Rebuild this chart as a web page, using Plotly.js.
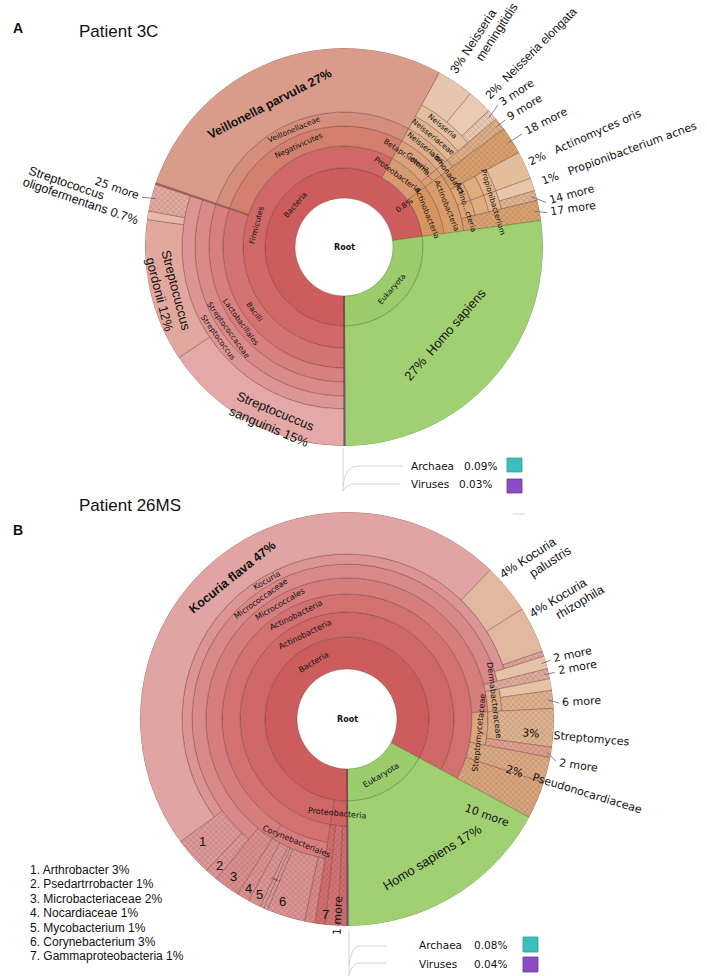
<!DOCTYPE html>
<html><head><meta charset="utf-8">
<script src="https://cdn.plot.ly/plotly-3.0.1.min.js"></script>
<style>html,body{margin:0;padding:0;background:#fff}#chart{width:707px;height:976px}</style>
</head><body><div id="chart"></div>
<script>
// ================= DATA : Patient 3C =================
const a_ids = ['bac','euk','arc','vir',
 'firm','prot','actp',
 'bacil','firm_more','neg',
 'lacto','strepf','strep','s_sang','s_gord','s_olig','s_more',
 'veilf','v_parv',
 'beta','neisl','neisf','neis','n_men','n_elo','n_more',
 'gamma','pseud','g_more',
 'actc','a18','actm','actmf','actmg','a_oris','propo','propf','propg','p_acnes','p14','a17',
 'hs'];
const a_names = ['Bacteria','Eukaryota','Archaea','Viruses',
 'Firmicutes','Proteobacteria','Actinobacteria',
 'Bacilli','Firmicutes other','Negativicutes',
 'Lactobacillales','Streptococcaceae','Streptococcus','Streptococcus sanguinis','Streptococcus gordonii','Streptococcus oligofermentans','25 more',
 'Veillonellaceae','Veillonella parvula',
 'Betaproteobacteria','Neisseriales','Neisseriaceae','Neisseria','Neisseria meningitidis','Neisseria elongata','3 more',
 'Gammaproteobacteria','Pseudomonadales','9 more',
 'Actinobacteria','18 more','Actinomycetales','Actinomycetaceae','Actinomyces','Actinomyces oris','Propionibacteriales','Propionibacteriaceae','Propionibacterium','Propionibacterium acnes','14 more','17 more',
 'Homo sapiens'];
const a_parents = ['','','','',
 'bac','bac','bac',
 'firm','firm','firm',
 'bacil','lacto','strepf','strep','strep','strep','strep',
 'neg','veilf',
 'prot','beta','neisl','neisf','neis','neis','neis',
 'prot','gamma','pseud',
 'actp','actc','actc','actm','actmf','actmg','actc','propo','propf','propg','propg','actc',
 'euk'];
const a_values = [0,0,0.09,0.03,
 0,0,0,
 0,0.15,0,
 0,0,0,15.6,11.6,0.7,2.2,
 0,27.71,
 0,0,0,0,3.0,2.0,0.9,
 0,0,1.0,
 0,2.25,0,0,0,2.25,0,0,0,1.05,0.8,1.65,
 27.0];

// ================= DATA : Patient 26MS =================
const b_ids = ['bac','euk','arc','vir',
 'prot','actp',
 'p_more1','gamma','p_other',
 'actc',
 'coryo','c_more','coryg','c_d1','c_d2','mycob','nocar',
 'micro','microb','micrf','pseudar','arthro','koc','k_flava','k_pal','k_rhiz','k_more','mf_more','mo_more','derma','d_light','d_more',
 'strepf','strepg','sf_more','pseudon','a10',
 'hs'];
const b_names = ['Bacteria','Eukaryota','Archaea','Viruses',
 'Proteobacteria','Actinobacteria',
 '1 more','Gammaproteobacteria','Proteobacteria other',
 'Actinobacteria',
 'Corynebacteriales','Corynebacteriales other','Corynebacterium','...','...','Mycobacterium','Nocardiaceae',
 'Micrococcales','Microbacteriaceae','Micrococcaceae','Pseudarthrobacter','Arthrobacter','Kocuria','Kocuria flava','Kocuria palustris','Kocuria rhizophila','Kocuria other','2 more','2 more','Dermabacteraceae','Dermabacteraceae sp.','6 more',
 'Streptomycetaceae','Streptomyces','2 more','Pseudonocardiaceae','10 more',
 'Homo sapiens'];
const b_parents = ['','','','',
 'bac','bac',
 'prot','prot','prot',
 'actp',
 'actc','coryo','coryo','coryo','coryo','coryo','coryo',
 'actc','micro','micro','micrf','micrf','micrf','koc','koc','koc','koc','micrf','micro','micro','derma','derma',
 'actc','strepf','strepf','actc','actc',
 'euk'];
const b_values = [0,0,0.08,0.04,
 0,0,
 0.7,1.0,0.8,
 0,
 0,0.8,3.0,0.3,0.3,1.0,1.0,
 0,2.0,0,1.0,3.0,0,47.3,3.9,3.6,0.4,1.0,0.8,0,0.9,1.4,
 0,3.0,0.8,2.0,2.9,
 17.0];

const b_key = ['1. Arthrobacter 3%','2. Psedartrrobacter 1%','3. Microbacteriaceae 2%','4. Nocardiaceae 1%','5. Mycobacterium 1%','6. Corynebacterium 3%','7. Gammaproteobacteria 1%'];
const a_minor = [['Archaea','0.09%'],['Viruses','0.03%']];
const b_minor = [['Archaea','0.08%'],['Viruses','0.04%']];

// ================= STYLE / LAYOUT =================
const W = 707, H = 976, D = Math.PI/180;
const geoA = {cx:344, cy:247, R:199, rings:[49,79,101,121,135,149,162], polar:'polar'};
const geoB = {cx:347, cy:719, R:207, rings:[50,82,107,125,141,155,165], polar:'polar2'};

const colA = {bac:'#cd5c5c',firm:'#d16868',bacil:'#d47373',lacto:'#d87f7f',strepf:'#db8a8a',strep:'#de9595',
 s_sang:'#e4a8a7',s_gord:'#e2a89e',s_olig:'#e8b8ac',s_more:'#e3ab9f',
 firm_more:'#b06a56',neg:'#d2806d',veilf:'#d58e7c',v_parv:'#d99c8a',
 prot:'#d7996f',beta:'#dba37b',neisl:'#dead87',neisf:'#e1b693',neis:'#e4bf9f',n_men:'#e8c6ad',n_elo:'#e9cab2',n_more:'#e9cbb3',
 gamma:'#d9a074',pseud:'#dca880',g_more:'#dfae88',
 actp:'#d6955f',actc:'#d99d6a',a18:'#d9a06c',actm:'#dca676',actmf:'#dfad80',actmg:'#e1b48b',a_oris:'#e4bd9b',
 propo:'#dca676',propf:'#dfad80',propg:'#e1b48b',p_acnes:'#e8c7ab',p14:'#e2b592',a17:'#dba26f',
 euk:'#9dcc6d',hs:'#a1d072',arc:'#3dbdbd',vir:'#8a4dc6'};
const hatA = ['s_more','n_more','g_more','a18','p14','a17'];
const colB = {bac:'#cd5c5c',prot:'#cf6262',p_more1:'#d46c6c',gamma:'#d67272',p_other:'#d46c6c',
 actp:'#d06767',actc:'#d37171',coryo:'#d77d7d',c_more:'#da8888',coryg:'#dd9393',c_d1:'#df9a9a',c_d2:'#df9a9a',mycob:'#dd9494',nocar:'#dc9090',
 micro:'#d67e7e',microb:'#dc8e8e',micrf:'#d98989',pseudar:'#de9595',arthro:'#df9999',koc:'#dc9494',
 k_flava:'#e0a5a3',k_pal:'#e2b9a0',k_rhiz:'#e2b9a0',k_more:'#e5a49c',mf_more:'#e7c2ab',mo_more:'#e2ac9c',
 derma:'#dca982',d_light:'#e7c3a5',d_more:'#e0b28f',
 strepf:'#dba57c',strepg:'#e0b38e',sf_more:'#e2a08f',pseudon:'#ddaa82',a10:'#dba57c',
 euk:'#9dcc6d',hs:'#a1d072',arc:'#3dbdbd',vir:'#8a4dc6'};
const hatB = ['p_more1','gamma','p_other','c_more','coryg','c_d1','c_d2','mycob','nocar','microb','pseudar','arthro','k_more','mo_more','d_more','strepg','sf_more','pseudon','a10'];
const greens = ['euk','hs'];

// ================= BUILD =================
function build(ids, parents, values){
  const idx={}, kids={}, roots=[];
  ids.forEach((id,i)=>{idx[id]=i; kids[id]=[];});
  ids.forEach((id,i)=>{const p=parents[i]; if(p==='') roots.push(id); else kids[p].push(id);});
  const val={};
  function sum(id){const k=kids[id]; val[id]=k.length?k.reduce((s,c)=>s+sum(c),0):values[idx[id]]; return val[id];}
  roots.forEach(sum);
  const total=roots.reduce((s,r)=>s+val[r],0);
  const nodes={};
  function lay(id,start,depth){const span=val[id]/total*360;
    nodes[id]={id,start,span,mid:start+span/2,depth,leaf:kids[id].length===0};
    let s=start; kids[id].forEach(c=>{lay(c,s,depth+1); s+=nodes[c].span;});}
  let s=0; roots.forEach(r=>{lay(r,s,1); s+=nodes[r].span;});
  return nodes;
}
const NA = build(a_ids,a_parents,a_values);
const NB = build(b_ids,b_parents,b_values);

function barTrace(nodes, geo, cols, hat){
  const L = Object.values(nodes);
  return {type:'barpolar', subplot:geo.polar,
    theta:L.map(n=>n.mid), width:L.map(n=>n.span),
    base:L.map(n=>geo.rings[n.depth-1]),
    r:L.map(n=>(n.leaf?geo.R:geo.rings[n.depth])-geo.rings[n.depth-1]),
    marker:{color:L.map(n=>cols[n.id]),
      line:{color:L.map(n=>greens.includes(n.id)?'rgba(70,120,45,0.6)':'rgba(95,50,45,0.5)'),width:0.7},
      pattern:{shape:L.map(n=>hat.includes(n.id)?'x':''),fillmode:'overlay',fgcolor:'rgb(150,85,65)',fgopacity:0.4,size:4,solidity:0.2}},
    hoverinfo:'skip', showlegend:false};
}

// ================= TEXT HELPERS =================
const anns=[], shapes=[];
function norm(a){a=((a%360)+360)%360; if(a>180)a-=360; if(a>90)a-=180; else if(a<=-90)a+=180; return a;}
function pt(geo,r,phi){return {x:geo.cx+r*Math.cos(phi*D), y:geo.cy-r*Math.sin(phi*D)};}
function addText(x,y,text,font,o){anns.push(Object.assign({x:x/W,y:1-y/H,xref:'paper',yref:'paper',text,showarrow:false,font,borderpad:0,xanchor:'center',yanchor:'middle'},o||{}));}
const krona = (s)=>({family:'DejaVu Sans',size:s,color:'#111'});
const arial = (s)=>({family:'Liberation Sans',size:s,color:'#111'});
function ringLabel(nodes,geo,id,text,o){o=o||{};
  const n=nodes[id]; const phi=270-n.mid+(o.dphi||0);
  const r0=geo.rings[n.depth-1], r1=n.leaf?geo.R:geo.rings[n.depth];
  const r=o.r||(r0+r1)/2;
  const alpha=o.upright?0:(o.radial?norm(phi):norm(phi-90));
  const p=pt(geo,r,phi);
  addText(p.x,p.y,text,o.font||krona(7.5),{textangle:-alpha,align:'center'});
}
function rotText(x,y,alpha,text,font,which){
  const h=font.size*1.2, s=Math.sin(alpha*D), c=Math.cos(alpha*D);
  let xa,ya,px,py;
  if(which==='start'){xa='left'; if(alpha>=0){ya='bottom';px=x-h/2*s;py=y+h/2*c;} else {ya='top';px=x+h/2*s;py=y-h/2*c;}}
  else {xa='right'; if(alpha<0){ya='bottom';px=x-h/2*s;py=y+h/2*c;} else {ya='top';px=x+h/2*s;py=y-h/2*c;}}
  addText(px,py,text,font,{xanchor:xa,yanchor:ya,textangle:-alpha});
}
function outerLabel(nodes,geo,o){
  const n=nodes[o.id]; const phiN=270-n.mid; const phi=phiN+(o.dphi||0);
  const p=pt(geo,o.r,phi); const which=o.which||'start';
  const s=Math.sin(o.alpha*D), c=Math.cos(o.alpha*D);
  o.lines.forEach(l=>{const al=l.along||0, dn=l.down||0;
    rotText(p.x+al*c+dn*s, p.y-al*s+dn*c, o.alpha, l.t, o.font, which);});
  if(o.leader){const a=pt(geo,geo.R-5,phiN), b=pt(geo,o.r-2,phi);
    shapes.push({type:'line',xref:'paper',yref:'paper',x0:a.x/W,y0:1-a.y/H,x1:b.x/W,y1:1-b.y/H,line:{color:'#666',width:0.8}});}
}
function P(x,y){return (x/W).toFixed(5)+','+(1-y/H).toFixed(5);}
const NB_ = '\u00a0';

// ---------- Chart A labels ----------
addText(geoA.cx,geoA.cy,'<b>Root</b>',krona(8));
[['bac','Bacteria'],['firm','Firmicutes'],['bacil','Bacilli'],['lacto','Lactobacillales'],['strepf','Streptococcaceae'],
 ['strep','Streptococcus'],['neg','Negativicutes',{dphi:3}],['veilf','Veillonellaceae',{dphi:2}],
 ['prot','Proteobacteria',{dphi:5}],['beta','Betapr...cteria',{dphi:5}],['neisl','Neisseriales'],['neisf','Neisseriaceae'],
 ['neis','Neisseria'],['gamma','Gamma...',{dphi:8}],['pseud','...omonadales',{dphi:-2}],
 ['actp','Actinobacteria'],['actc','Actinobacteria'],['actm','Actino...cteria',{dphi:-6}],['propg','Propionibacterium'],
 ['euk','Eukaryota'],['actp','0.8%',{r:73,dphi:12.4,radial:true}]
].forEach(a=>ringLabel(NA,geoA,a[0],a[1],a[2]));
ringLabel(NA,geoA,'v_parv','<b>Veillonella parvula 27%</b>',{r:161,dphi:6.2,font:arial(12.5)});
ringLabel(NA,geoA,'s_gord','Streptocuccus<br>gordonii 12%',{r:182,dphi:1.7,font:arial(13)});
ringLabel(NA,geoA,'s_sang','Streptocuccus<br>sanguinis 15%',{r:186,dphi:5.4,font:arial(13)});
ringLabel(NA,geoA,'hs','27%'+NB_+NB_+'Homo sapiens',{r:134,font:arial(13)});

[
 {id:'n_men',dphi:2.2,r:205,alpha:57,font:arial(12.5),lines:[{t:'3% Neisseria'},{t:'meningitidis',along:24,down:15}]},
 {id:'n_elo',dphi:-0.5,r:206,alpha:45,font:arial(12),lines:[{t:'2%'+NB_+NB_+'Neisseria elongata'}]},
 {id:'n_more',dphi:1,r:211,alpha:33,font:krona(11),lines:[{t:'3 more'}],leader:true},
 {id:'g_more',dphi:0,r:207,alpha:32,font:krona(11),lines:[{t:'9 more'}],leader:true},
 {id:'a18',dphi:0,r:213,alpha:27,font:krona(11),lines:[{t:'18 more'}],leader:true},
 {id:'a_oris',dphi:0.2,r:202,alpha:24,font:krona(11),lines:[{t:'2%'+NB_+NB_+NB_+'Actinomyces oris'}]},
 {id:'p_acnes',dphi:-0.2,r:207,alpha:20,font:krona(11),lines:[{t:'1%'+NB_+NB_+NB_+'Propionibacterium acnes'}]},
 {id:'p14',dphi:-2.6,r:209,alpha:15,font:krona(11),lines:[{t:'14 more'}],leader:true},
 {id:'a17',dphi:-1,r:208,alpha:8,font:krona(11),lines:[{t:'17 more'}],leader:true},
 {id:'s_more',dphi:0.6,r:210,alpha:-19,which:'end',font:krona(11),lines:[{t:'25 more'}],leader:true},
 {id:'s_olig',dphi:2.2,r:207,alpha:-19,which:'end',font:arial(12.5),lines:[{t:'oligofermentans 0.7%'},{t:'Streptococcus',along:-40,down:-13}]}
].forEach(o=>outerLabel(NA,geoA,o));

// ---------- Chart B labels ----------
addText(geoB.cx,geoB.cy,'<b>Root</b>',krona(8));
[['bac','Bacteria'],['actp','Actinobacteria'],['actc','Actinobacteria'],['micro','Micrococcales'],
 ['micrf','Micrococcaceae',{dphi:3}],['koc','Kocuria',{dphi:3}],['coryo','Corynebacteriales',{dphi:-2}],
 ['prot','Proteobacteria',{dphi:-1}],['euk','Eukaryota'],['strepf','Streptomycetaceae',{dphi:-2}],
 ['derma','Dermabacteraceae'],['c_d1','...'],['c_d2','...']
].forEach(a=>{const o=a[2]||{}; o.font=krona(8); ringLabel(NB,geoB,a[0],a[1],o);});
ringLabel(NB,geoB,'k_flava','<b>Kocuria flava 47%</b>',{r:182,dphi:-2.4,font:arial(12.5)});
ringLabel(NB,geoB,'hs','Homo sapiens 17%',{r:163,dphi:0.5,font:arial(13)});
[['arthro','1',190,-1.5],['pseudar','2',194,0],['microb','3',194,0],['nocar','4',196,0],['mycob','5',196,0],['coryg','6',194,-2.2],['gamma','7',197,-2]]
 .forEach(a=>ringLabel(NB,geoB,a[0],a[1],{r:a[2],dphi:a[3],upright:true,font:arial(13)}));
ringLabel(NB,geoB,'p_more1','1 more',{r:197,dphi:-1.3,radial:true,font:krona(11)});

[
 {id:'k_pal',dphi:3.8,r:209,alpha:33,font:arial(12.5),lines:[{t:'4% Kocuria'},{t:'palustris',along:25,down:15}]},
 {id:'k_rhiz',dphi:4,r:210,alpha:31,font:arial(12.5),lines:[{t:'4% Kocuria'},{t:'rhizophila',along:22,down:15}]},
 {id:'mf_more',dphi:0.2,r:214,alpha:12,font:krona(11),lines:[{t:'2 more'}],leader:true},
 {id:'mo_more',dphi:0,r:215,alpha:10,font:krona(11),lines:[{t:'2 more'}],leader:true},
 {id:'d_more',dphi:-1.2,r:215,alpha:3,font:krona(11),lines:[{t:'6 more'}],leader:true},
 {id:'strepg',dphi:-1.7,r:175,alpha:-5,font:krona(11),lines:[{t:'3%'+NB_+NB_+NB_+NB_+'Streptomyces'}]},
 {id:'sf_more',dphi:-2.1,r:215,alpha:-8,font:krona(11),lines:[{t:'2 more'}],leader:true},
 {id:'pseudon',dphi:-2.8,r:165,alpha:-17,font:krona(11),lines:[{t:'2%'+NB_+NB_+NB_+'Pseudonocardiaceae'}]},
 {id:'a10',dphi:-13.5,r:146,alpha:-20,font:krona(11),lines:[{t:'10 more'}]}
].forEach(o=>outerLabel(NB,geoB,o));

b_key.forEach((t,i)=>addText(29,870+i*14.4,t,arial(12),{xanchor:'left'}));

// minor kingdoms legend
function minor(list,geo,nameX,pctR,rows,sq){
  list.forEach((m,i)=>{
    addText(nameX,rows[i],m[0],krona(10.5),{xanchor:'left'});
    addText(pctR[i],rows[i],m[1],krona(10.5),{xanchor:'right'});
    const c = i===0?['#3dbdbd','#2b9c9c']:['#8a4dc6','#6a35a0'];
    const q = sq[i];
    shapes.push({type:'rect',xref:'paper',yref:'paper',x0:q[0]/W,x1:q[2]/W,y0:1-q[3]/H,y1:1-q[1]/H,fillcolor:c[0],line:{color:c[1],width:0.8}});
  });
}
minor(a_minor,geoA,410,[498,493],[466,484],[[507,458,522,472],[507,479,522,493]]);
minor(b_minor,geoB,418,[508,508],[945,964],[[523,937,538,952],[523,957,538,972]]);
const gl={color:'#d4d4d4',width:1};
[
 'M'+P(343,448)+'L'+P(343,491),
 'M'+P(343,486)+'Q'+P(345,466)+' '+P(358,466)+'L'+P(403,466),
 'M'+P(343,491)+'Q'+P(346,484)+' '+P(356,484)+'L'+P(400,484),
 'M'+P(349,929)+'L'+P(349,976),
 'M'+P(349,966)+'Q'+P(351,946)+' '+P(360,946)+'L'+P(386,946),
 'M'+P(349,975)+'Q'+P(352,963)+' '+P(360,963)+'L'+P(386,963)
].forEach(p=>shapes.push({type:'path',xref:'paper',yref:'paper',path:p,line:gl}));
shapes.push({type:'line',xref:'paper',yref:'paper',x0:513/W,x1:525/W,y0:1-514/H,y1:1-514/H,line:{color:'#cfcfe0',width:1}});

// titles
addText(18,28,'<b>A</b>',arial(14));
addText(78,31,'Patient 3C',arial(17),{xanchor:'left'});
addText(18,530,'<b>B</b>',arial(14));
addText(78,505,'Patient 26MS',arial(17),{xanchor:'left'});

function polarLayout(geo){
  return {domain:{x:[(geo.cx-geo.R)/W,(geo.cx+geo.R)/W], y:[1-(geo.cy+geo.R)/H,1-(geo.cy-geo.R)/H]},
    bgcolor:'rgba(0,0,0,0)', barmode:'overlay', bargap:0, hole:0,
    radialaxis:{visible:false,range:[0,geo.R]},
    angularaxis:{visible:false,rotation:270,direction:'clockwise'}};
}
const layout = {width:W,height:H,margin:{l:0,r:0,t:0,b:0},paper_bgcolor:'#fff',plot_bgcolor:'#fff',showlegend:false,
  polar:polarLayout(geoA), polar2:polarLayout(geoB), annotations:anns, shapes:shapes};
Plotly.newPlot('chart',[barTrace(NA,geoA,colA,hatA),barTrace(NB,geoB,colB,hatB)],layout,{staticPlot:true,displayModeBar:false});
</script></body></html>
